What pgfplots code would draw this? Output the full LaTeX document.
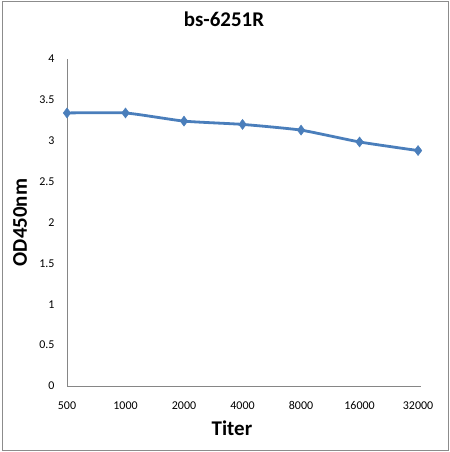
\documentclass[border=0pt]{standalone}
\usepackage{pgfplots}
\pgfplotsset{compat=1.18}
\usepackage{fontspec}
\setmainfont{Carlito}
\definecolor{lineblue}{HTML}{4A7EBB}
\definecolor{axgray}{HTML}{868686}
\definecolor{framegray}{HTML}{8C8C8C}
\begin{document}
\begin{tikzpicture}
\path[use as bounding box] (0,0) rectangle (450bp,452bp);
\draw[framegray, line width=1bp] (2bp,1.5bp) rectangle (448bp,450.5bp);
\begin{axis}[
  at={(67bp,66bp)}, anchor=south west,
  width=354bp, height=327bp, scale only axis,
  xmin=0, xmax=6.05, ymin=0, ymax=4,
  axis x line*=bottom, axis y line*=left,
  axis line style={axgray, line width=0.8bp, -},
  xtick={0,1,2,3,4,5,6},
  xticklabels={500,1000,2000,4000,8000,16000,32000},
  ytick={0,0.5,1,1.5,2,2.5,3,3.5,4},
  yticklabels={0,0.5,1,1.5,2,2.5,3,3.5,4},
  major tick length=0pt,
  /pgf/number format/assume math mode=true,
  tick label style={font=\fontsize{12}{14}\selectfont, black},
  xticklabel style={yshift=-12bp},
  yticklabel style={xshift=-9bp},
  title={\textbf{bs-6251R}},
  title style={font=\fontsize{21}{24}\selectfont, at={(axis description cs:0.4435,1)}, anchor=center, yshift=34bp},
  xlabel={\textbf{Titer}},
  xlabel style={font=\fontsize{21}{24}\selectfont, at={(axis description cs:0.466,0)}, anchor=center, yshift=-42bp},
  ylabel={\textbf{OD450nm}},
  ylabel style={font=\fontsize{21}{24}\selectfont, at={(axis description cs:-0.1328,0.5)}, anchor=center, rotate=0},
  clip=false,
]
\addplot[lineblue, line width=2.8bp, smooth, tension=0.3, mark=diamond*, mark size=5bp, mark options={fill=lineblue, draw=lineblue, line width=0.5bp}]
  coordinates {(0,3.34) (1,3.34) (2,3.24) (3,3.20) (4,3.13) (5,2.985) (6,2.88)};
\end{axis}
\end{tikzpicture}
\end{document}
